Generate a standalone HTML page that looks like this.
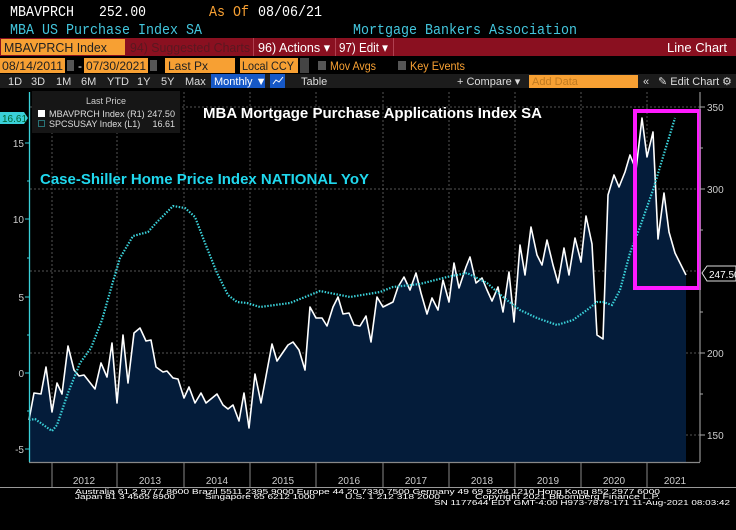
<!DOCTYPE html>
<html><head><meta charset="utf-8"><style>
html,body{margin:0;padding:0;background:#000;width:736px;height:530px;overflow:hidden}
svg{display:block}
.m{font-family:"Liberation Mono",monospace}
.s{font-family:"Liberation Sans",sans-serif}
</style></head><body>
<svg width="736" height="530" xmlns="http://www.w3.org/2000/svg">
<rect width="736" height="530" fill="#000"/>
<!-- header rows -->
<text x="10" y="16" class="m" font-size="15" fill="#fff" textLength="64" lengthAdjust="spacingAndGlyphs">MBAVPRCH</text>
<text x="99" y="16" class="m" font-size="15" fill="#fff" textLength="47" lengthAdjust="spacingAndGlyphs">252.00</text>
<text x="209" y="16" class="m" font-size="15" fill="#f7a033" textLength="40" lengthAdjust="spacingAndGlyphs">As Of</text>
<text x="258" y="16" class="m" font-size="15" fill="#fff" textLength="64" lengthAdjust="spacingAndGlyphs">08/06/21</text>
<text x="10" y="34" class="m" font-size="15" fill="#43c6dd" textLength="192" lengthAdjust="spacingAndGlyphs">MBA US Purchase Index SA</text>
<text x="353" y="34" class="m" font-size="15" fill="#43c6dd" textLength="224" lengthAdjust="spacingAndGlyphs">Mortgage Bankers Association</text>
<rect x="0" y="38" width="736" height="18" fill="#8a1020"/>
<rect x="1" y="39" width="124" height="16" fill="#f7a033"/>
<text x="4" y="52" class="s" font-size="13" fill="#222" textLength="103" lengthAdjust="spacingAndGlyphs">MBAVPRCH Index</text>
<text x="130" y="52" class="s" font-size="13" fill="#5a1820" textLength="120" lengthAdjust="spacingAndGlyphs">94) Suggested Charts</text>
<rect x="253" y="38" width="1" height="18" fill="#b04050"/>
<text x="258" y="52" class="s" font-size="13" fill="#fff" textLength="72" lengthAdjust="spacingAndGlyphs">96) Actions ▾</text>
<rect x="335" y="38" width="1" height="18" fill="#b04050"/>
<text x="339" y="52" class="s" font-size="13" fill="#fff" textLength="49" lengthAdjust="spacingAndGlyphs">97) Edit ▾</text>
<rect x="393" y="38" width="1" height="18" fill="#b04050"/>
<text x="667" y="52" class="s" font-size="13" fill="#fff" textLength="60" lengthAdjust="spacingAndGlyphs">Line Chart</text>
<!-- row 4 -->
<rect x="0" y="58" width="65" height="15" fill="#f7a033"/>
<text x="2" y="70" class="s" font-size="12" fill="#222" textLength="61" lengthAdjust="spacingAndGlyphs">08/14/2011</text>
<rect x="67" y="60" width="7" height="11" fill="#555"/>
<text x="78" y="70" class="s" font-size="12" fill="#fff">-</text>
<rect x="84" y="58" width="64" height="15" fill="#f7a033"/>
<text x="86" y="70" class="s" font-size="12" fill="#222" textLength="60" lengthAdjust="spacingAndGlyphs">07/30/2021</text>
<rect x="150" y="60" width="7" height="11" fill="#555"/>
<rect x="165" y="58" width="70" height="15" fill="#f7a033"/>
<text x="168" y="70" class="s" font-size="12" fill="#222">Last Px</text>
<rect x="240" y="58" width="58" height="15" fill="#f7a033"/>
<text x="242" y="70" class="s" font-size="12" fill="#222" textLength="52" lengthAdjust="spacingAndGlyphs">Local CCY</text>
<rect x="300" y="58" width="9" height="15" fill="#444"/>
<rect x="318" y="61" width="8" height="9" fill="#555"/>
<text x="330" y="70" class="s" font-size="12" fill="#f7a033" textLength="46" lengthAdjust="spacingAndGlyphs">Mov Avgs</text>
<rect x="398" y="61" width="8" height="9" fill="#555"/>
<text x="410" y="70" class="s" font-size="12" fill="#f7a033" textLength="55" lengthAdjust="spacingAndGlyphs">Key Events</text>
<!-- row 5 -->
<rect x="0" y="74" width="736" height="14" fill="#1c1c1c"/>
<g class="s" font-size="11" fill="#ddd">
<text x="8" y="85">1D</text><text x="31" y="85">3D</text><text x="56" y="85">1M</text><text x="81" y="85">6M</text>
<text x="107" y="85">YTD</text><text x="137" y="85">1Y</text><text x="161" y="85">5Y</text><text x="185" y="85">Max</text>
</g>
<rect x="211" y="74" width="54" height="14" fill="#1658c6"/>
<text x="214" y="85" class="s" font-size="11" fill="#fff">Monthly ▼</text>
<rect x="270" y="74" width="15" height="14" fill="#1658c6"/>
<polyline points="273,84 276,80 279,82 283,77" fill="none" stroke="#fff" stroke-width="1"/>
<text x="301" y="85" class="s" font-size="11" fill="#ddd">Table</text>
<text x="457" y="85" class="s" font-size="11" fill="#ddd">+ Compare ▾</text>
<rect x="529" y="75" width="109" height="13" fill="#f7a033"/>
<text x="532" y="85" class="s" font-size="11" fill="#c07a20">Add Data</text>
<text x="643" y="85" class="s" font-size="11" fill="#ddd">«</text>
<text x="658" y="85" class="s" font-size="11" fill="#ddd">✎ Edit Chart</text>
<text x="722" y="85" class="s" font-size="11" fill="#ddd">⚙</text>

<!-- grid -->
<g stroke="#555" stroke-width="1" stroke-dasharray="2,2">
<line x1="30" y1="107" x2="700" y2="107"/><line x1="30" y1="189" x2="700" y2="189"/>
<line x1="30" y1="271" x2="700" y2="271"/><line x1="30" y1="353" x2="700" y2="353"/>
<line x1="30" y1="435" x2="700" y2="435"/>
<line x1="52" y1="92" x2="52" y2="462"/><line x1="117" y1="92" x2="117" y2="462"/>
<line x1="184" y1="92" x2="184" y2="462"/><line x1="250" y1="92" x2="250" y2="462"/>
<line x1="316" y1="92" x2="316" y2="462"/><line x1="383" y1="92" x2="383" y2="462"/>
<line x1="449" y1="92" x2="449" y2="462"/><line x1="515" y1="92" x2="515" y2="462"/>
<line x1="581" y1="92" x2="581" y2="462"/><line x1="647" y1="92" x2="647" y2="462"/>
</g>

<!-- white series area -->
<polygon fill="#041c3a" points="30,462 29,420 34,393 41,394 46,367 52,412 57,383 62,394 68,346 74,370 79,376 84,375 95,389 101,363 107,377 112,343 117,403 123,335 128,383 134,333 140,328 146,341 151,340 156,367 163,372 167,371 173,378 178,379 184,398 189,387 195,403 201,393 206,403 217,394 223,405 228,409 233,405 239,421 244,393 249,428 255,374 261,403 272,344 277,361 288,345 293,342 299,350 305,370 310,307 316,318 322,318 327,326 333,307 338,297 343,314 349,313 354,325 360,326 366,316 371,342 377,297 383,307 393,302 398,287 404,277 410,290 416,273 421,293 427,314 432,298 438,310 443,280 449,302 454,263 459,288 466,267 470,257 476,283 482,278 487,290 492,301 498,287 503,312 509,272 514,322 520,245 525,275 531,227 537,255 542,265 547,240 553,265 558,283 564,248 569,275 575,238 581,262 586,216 592,244 597,335 603,339 608,195 614,175 619,187 625,172 630,155 636,170 642,118 647,157 653,132 658,239 664,193 669,232 675,253 686,275 686,462"/>
<polyline fill="none" stroke="#fff" stroke-width="1.6" stroke-linejoin="round" points="29,420 34,393 41,394 46,367 52,412 57,383 62,394 68,346 74,370 79,376 84,375 95,389 101,363 107,377 112,343 117,403 123,335 128,383 134,333 140,328 146,341 151,340 156,367 163,372 167,371 173,378 178,379 184,398 189,387 195,403 201,393 206,403 217,394 223,405 228,409 233,405 239,421 244,393 249,428 255,374 261,403 272,344 277,361 288,345 293,342 299,350 305,370 310,307 316,318 322,318 327,326 333,307 338,297 343,314 349,313 354,325 360,326 366,316 371,342 377,297 383,307 393,302 398,287 404,277 410,290 416,273 421,293 427,314 432,298 438,310 443,280 449,302 454,263 459,288 466,267 470,257 476,283 482,278 487,290 492,301 498,287 503,312 509,272 514,322 520,245 525,275 531,227 537,255 542,265 547,240 553,265 558,283 564,248 569,275 575,238 581,262 586,216 592,244 597,335 603,339 608,195 614,175 619,187 625,172 630,155 636,170 642,118 647,157 653,132 658,239 664,193 669,232 675,253 686,275"/>
<!-- cyan dotted -->
<polyline fill="none" stroke="#3ad0d8" stroke-width="2.2" stroke-dasharray="1.5,1.5" points="29,420 35,419 52,431 57,425 68,393 80,363 91,348 102,320 112,285 120,258 133,236 148,232 157,222 173,206 185,208 195,217 205,243 217,273 228,295 237,302 247,303 260,307 290,303 320,291 350,297 380,292 393,287 420,284 447,277 467,273 487,283 503,297 520,310 537,318 557,325 573,320 587,310 597,302 603,302 612,305 620,290 630,253 640,227 653,190 663,157 675,118"/>
<!-- magenta box -->
<rect x="635" y="111" width="64" height="177" fill="none" stroke="#ff1aff" stroke-width="4"/>

<!-- axes -->
<line x1="29.5" y1="92" x2="29.5" y2="462" stroke="#3ad0d8" stroke-width="1.3"/>
<line x1="700" y1="92" x2="700" y2="462" stroke="#888" stroke-width="1.3"/>
<line x1="29" y1="462.5" x2="700" y2="462.5" stroke="#888" stroke-width="1.3"/>
<g stroke="#3ad0d8" stroke-width="1">
<line x1="25" y1="143" x2="29" y2="143"/><line x1="25" y1="219" x2="29" y2="219"/><line x1="25" y1="297" x2="29" y2="297"/><line x1="25" y1="373" x2="29" y2="373"/><line x1="25" y1="449" x2="29" y2="449"/>
<line x1="27" y1="181" x2="29" y2="181"/><line x1="27" y1="258" x2="29" y2="258"/><line x1="27" y1="335" x2="29" y2="335"/><line x1="27" y1="411" x2="29" y2="411"/>
</g>
<g class="s" font-size="10" fill="#ccc" text-anchor="end">
<text x="24" y="147">15</text><text x="24" y="223">10</text><text x="24" y="301">5</text><text x="24" y="377">0</text><text x="24" y="453">-5</text>
</g>
<polygon points="0,112 24,112 28,118 24,124 0,124" fill="#3ad0d8"/>
<text x="2" y="122" class="s" font-size="10" fill="#063">16.61</text>
<g stroke="#aaa" stroke-width="1">
<line x1="700" y1="107" x2="705" y2="107"/><line x1="700" y1="189" x2="705" y2="189"/><line x1="700" y1="353" x2="705" y2="353"/><line x1="700" y1="435" x2="705" y2="435"/>
<line x1="700" y1="148" x2="703" y2="148"/><line x1="700" y1="230" x2="703" y2="230"/><line x1="700" y1="312" x2="703" y2="312"/><line x1="700" y1="394" x2="703" y2="394"/>
</g>
<g class="s" font-size="10" fill="#ccc">
<text x="707" y="111">350</text><text x="707" y="193">300</text><text x="707" y="357">200</text><text x="707" y="439">150</text>
</g>
<polygon points="702,273 707,266 736,266 736,281 707,281" fill="#000" stroke="#ddd" stroke-width="1"/>
<text x="709" y="278" class="s" font-size="10" fill="#fff">247.50</text>
<!-- x ticks/labels -->
<g stroke="#888" stroke-width="1">
<line x1="52" y1="462" x2="52" y2="487"/><line x1="117" y1="462" x2="117" y2="487"/><line x1="184" y1="462" x2="184" y2="487"/><line x1="250" y1="462" x2="250" y2="487"/><line x1="316" y1="462" x2="316" y2="487"/><line x1="383" y1="462" x2="383" y2="487"/><line x1="449" y1="462" x2="449" y2="487"/><line x1="515" y1="462" x2="515" y2="487"/><line x1="581" y1="462" x2="581" y2="487"/><line x1="647" y1="462" x2="647" y2="487"/>
</g>
<g class="s" font-size="10" fill="#ccc" text-anchor="middle">
<text x="84" y="484">2012</text><text x="150" y="484">2013</text><text x="217" y="484">2014</text><text x="283" y="484">2015</text><text x="349" y="484">2016</text><text x="416" y="484">2017</text><text x="482" y="484">2018</text><text x="548" y="484">2019</text><text x="614" y="484">2020</text><text x="675" y="484">2021</text>
</g>
<line x1="0" y1="487.5" x2="736" y2="487.5" stroke="#999" stroke-width="1"/>
<g class="s" font-size="7.5" fill="#fff">
<text x="75" y="494" textLength="585" lengthAdjust="spacingAndGlyphs">Australia 61 2 9777 8600 Brazil 5511 2395 9000 Europe 44 20 7330 7500 Germany 49 69 9204 1210 Hong Kong 852 2977 6000</text>
<text x="75" y="499" textLength="100" lengthAdjust="spacingAndGlyphs">Japan 81 3 4565 8900</text>
<text x="205" y="499" textLength="110" lengthAdjust="spacingAndGlyphs">Singapore 65 6212 1000</text>
<text x="345" y="499" textLength="95" lengthAdjust="spacingAndGlyphs">U.S. 1 212 318 2000</text>
<text x="475" y="499" textLength="185" lengthAdjust="spacingAndGlyphs">Copyright 2021 Bloomberg Finance L.P.</text>
<text x="434" y="505" textLength="296" lengthAdjust="spacingAndGlyphs">SN 1177644 EDT  GMT-4:00 H973-7878-171 11-Aug-2021 08:03:42</text>
</g>

<!-- legend -->
<rect x="32" y="91" width="148" height="42" fill="#161616"/>
<text x="106" y="104" class="s" font-size="9" fill="#ccc" text-anchor="middle">Last Price</text>
<rect x="38" y="110" width="7" height="7" fill="#fff"/>
<text x="49" y="117" class="s" font-size="9" fill="#ddd" textLength="126" lengthAdjust="spacingAndGlyphs">MBAVPRCH Index  (R1) 247.50</text>
<rect x="38.5" y="120.5" width="6" height="6" fill="none" stroke="#3ad0d8" stroke-dasharray="1,1"/>
<text x="49" y="127" class="s" font-size="9" fill="#ddd">SPCSUSAY Index  (L1)</text>
<text x="175" y="127" class="s" font-size="9" fill="#ddd" text-anchor="end">16.61</text>
<!-- annotations -->
<text x="203" y="118" class="s" font-size="15" font-weight="bold" fill="#fff">MBA Mortgage Purchase Applications Index SA</text>
<text x="40" y="184" class="s" font-size="15" font-weight="bold" fill="#20d8ee">Case-Shiller Home Price Index NATIONAL YoY</text>
</svg>
</body></html>
